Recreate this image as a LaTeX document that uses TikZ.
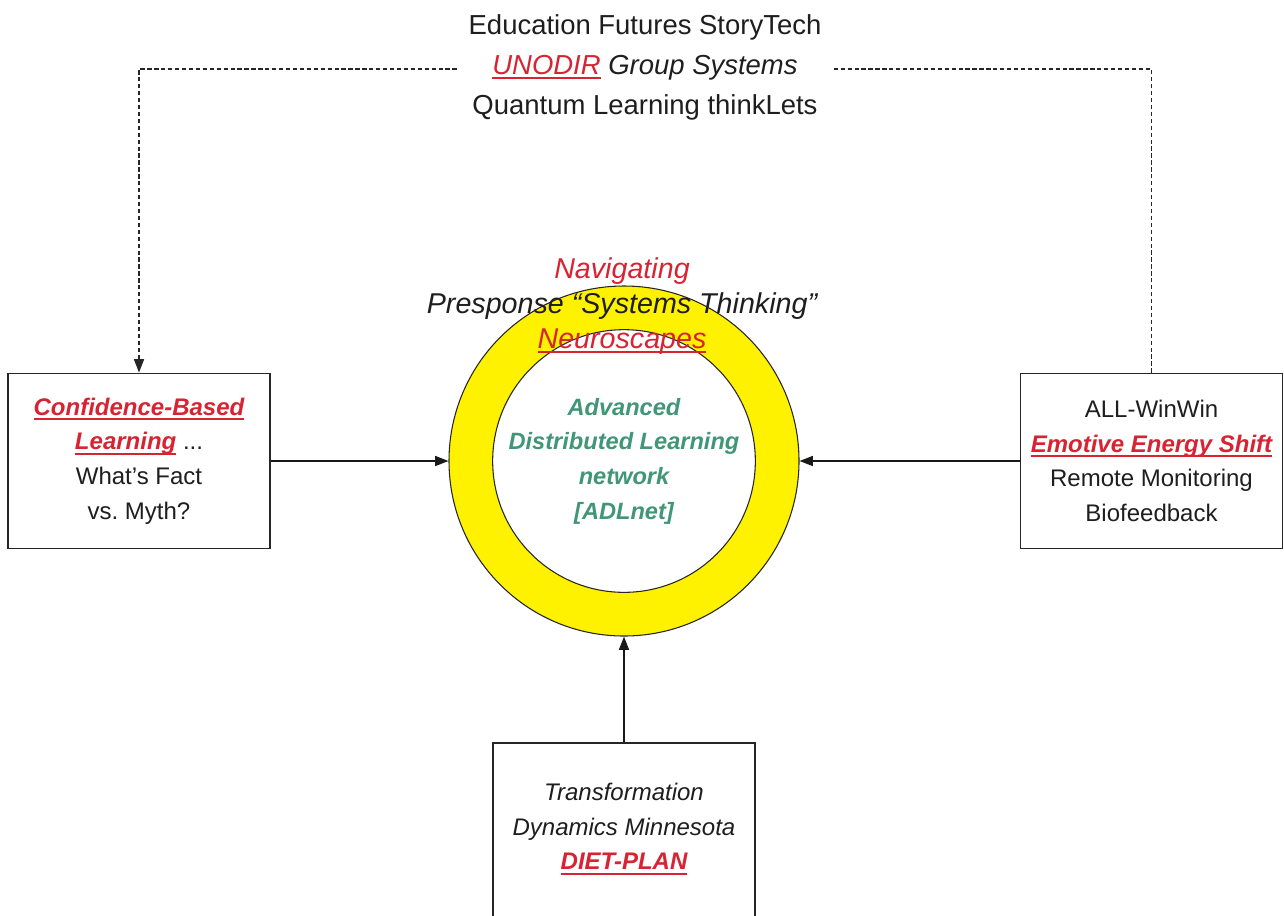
\documentclass[tikz,border=0pt]{standalone}
\usepackage{fontspec}
\setmainfont{Liberation Sans}
\usetikzlibrary{arrows.meta}
\definecolor{tred}{RGB}{215,35,50}
\definecolor{tgreen}{RGB}{65,150,120}
\definecolor{tink}{RGB}{30,30,30}
\newcommand\redul[1]{{\color{tred}\setbox0\hbox{#1}\rlap{\vrule height -2.4pt depth 3.6pt width \wd0}\box0}}
\frenchspacing
\begin{document}
\begin{tikzpicture}[x=0.75pt,y=-0.75pt,
  every node/.style={text=tink},
  boxnode/.style={draw=black!85, line width=1.4pt, fill=white, minimum width=196.5pt, minimum height=131.25pt, inner sep=0pt},
  boxtext/.style={align=center, font=\fontsize{18}{26}\selectfont},
  conn/.style={draw=black!90, line width=1.1pt, -{Triangle[length=10pt,width=7.5pt]}},
  dashline/.style={draw=black!85, line width=1pt, dash pattern=on 3.2pt off 2pt}]
\useasboundingbox (0,0) rectangle (1284,915);
\clip (0,0) rectangle (1284,915);
\fill[white] (0,0) rectangle (1284,915);

% boxes
\node[boxnode, boxtext] (L) at (139,461) {{\bfseries\itshape\redul{Confidence-Based}}\\ {\bfseries\itshape\redul{Learning}} ...\\ What’s Fact\\ vs. Myth?};
\node[boxnode, boxtext] (R) at (1151.5,461) {ALL-WinWin\\ {\bfseries\itshape\redul{Emotive Energy Shift}}\\ Remote Monitoring\\ Biofeedback};
\node[boxnode, minimum height=150pt] (B) at (624,843) {};
\node[boxtext, font=\itshape\fontsize{18}{26}\selectfont] (Btxt) at (624,829) {Transformation\\ Dynamics Minnesota\\ {\bfseries\redul{DIET-PLAN}}};

% ring
\node[circle, draw=black!85, line width=0.8pt, fill=yellow, minimum size=262.5pt, inner sep=0pt] (ring) at (624,461) {};
\node[circle, draw=black!85, line width=0.8pt, fill=white, minimum size=197pt, inner sep=0pt] (core) at (624,461) {};
\node[align=center, text=tgreen, font=\bfseries\itshape\fontsize{17.7}{26}\selectfont] (adl) at (624,461) {Advanced\\ Distributed Learning\\ network\\ {[ADLnet]}};
\node[align=center, font=\itshape\fontsize{21.5}{26}\selectfont] (title) at (622,306) {{\color{tred}Navigating}\\ Presponse “Systems Thinking”\\ \redul{Neuroscapes}};

% connectors
\draw[conn] (L.east) -- (ring.west);
\draw[conn] (R.west) -- (ring.east);
\draw[conn] (B.north) -- (ring.south);

\coordinate (dR) at (1151.5,69);
\coordinate (dL) at (139,69);
\draw[dashline, -{Triangle[length=10pt,width=7.5pt]}] (R.north) -- (dR) -- (dL) -- (L.north);

\node[fill=white, inner xsep=7pt, inner ysep=2pt, align=center, font=\fontsize{20.6}{30}\selectfont] (top) at (645,67) {Education Futures StoryTech\\ {\itshape\redul{UNODIR} Group Systems}\\ Quantum Learning thinkLets};
\end{tikzpicture}
\end{document}
